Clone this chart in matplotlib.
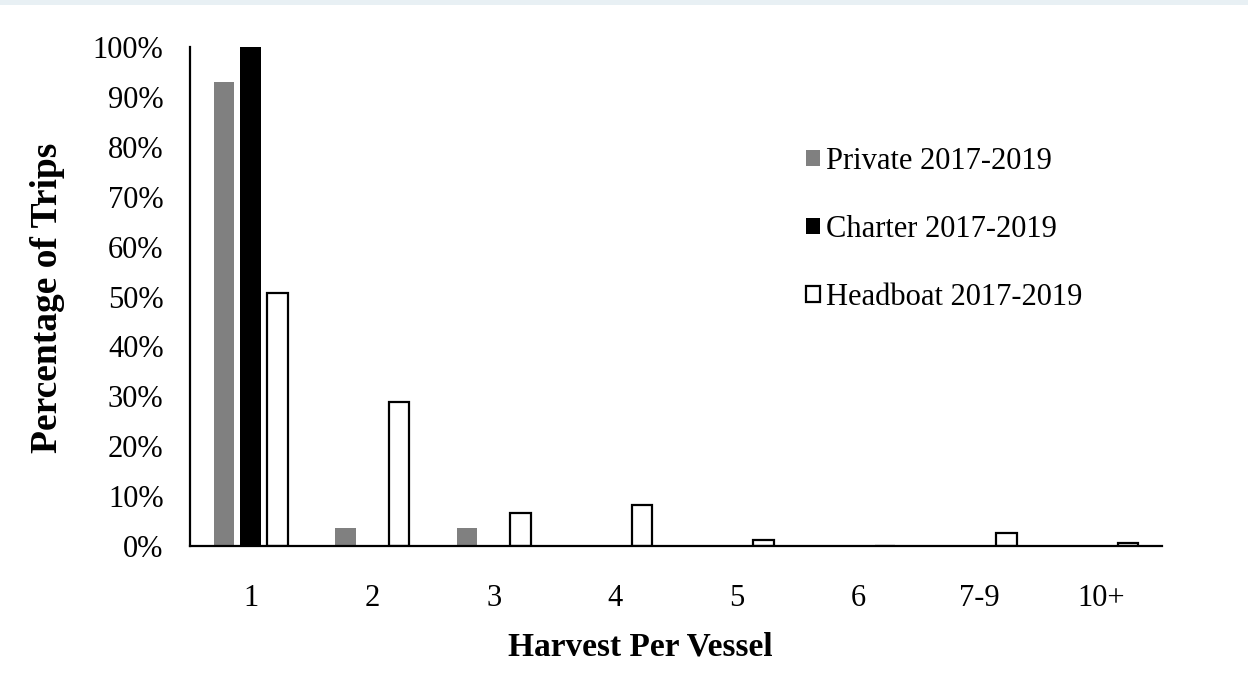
import matplotlib.pyplot as plt
import numpy as np
from matplotlib.patches import Rectangle

# Categories and series (percentage of trips)
categories = ["1", "2", "3", "4", "5", "6", "7-9", "10+"]
private = [92.9, 3.7, 3.7, 0, 0, 0, 0, 0]
charter = [100, 0, 0, 0, 0, 0, 0, 0]
headboat = [50.8, 28.9, 6.7, 8.3, 1.3, 0, 2.7, 0.6]

plt.rcParams['font.family'] = ['Liberation Serif', 'DejaVu Serif']

fig = plt.figure(figsize=(12.48, 6.84), dpi=100)
# thin light strip along the top edge
fig.patches.append(Rectangle((0, 1 - 5 / 684), 1, 5 / 684, transform=fig.transFigure,
                             facecolor="#e8f0f4", edgecolor="none"))
ax = fig.add_axes([190 / 1248, 1 - 546 / 684, 972 / 1248, 499 / 684])

x = np.arange(len(categories))
w = 0.17
off = 0.22
ax.bar(x - off, private, w, color="#808080", label="Private 2017-2019")
ax.bar(x, charter, w, color="black", label="Charter 2017-2019")
ax.bar(x + off, headboat, w, facecolor="white", edgecolor="black", linewidth=1.6,
       label="Headboat 2017-2019")

ax.set_xlim(-0.5, len(categories) - 0.5)
ax.set_ylim(0, 100)
ax.set_yticks(range(0, 101, 10))
ax.set_yticklabels([f"{v}%" for v in range(0, 101, 10)])
ax.set_xticks(x)
ax.set_xticklabels(categories)
ax.tick_params(axis="both", length=0, labelsize=22)
ax.tick_params(axis="y", pad=19)
ax.tick_params(axis="x", pad=27)

for s in ["top", "right"]:
    ax.spines[s].set_visible(False)
for s in ["left", "bottom"]:
    ax.spines[s].set_linewidth(1.6)

fig.text(640 / 1248, 1 - 647 / 684, "Harvest Per Vessel", ha="center", va="center",
         fontsize=24, fontweight="bold")
fig.text(48 / 1248, 1 - 298 / 684, "Percentage of Trips", ha="center", va="center",
         rotation=90, fontsize=27, fontweight="bold")

ax.legend(loc="upper left", bbox_to_anchor=(806 / 1248, 1 - 147 / 684),
          bbox_transform=fig.transFigure, frameon=False, fontsize=22,
          handlelength=0.45, handleheight=0.45, handletextpad=0.2,
          labelspacing=1.27, borderaxespad=0, borderpad=0)

fig.savefig("out.png", dpi=100)
